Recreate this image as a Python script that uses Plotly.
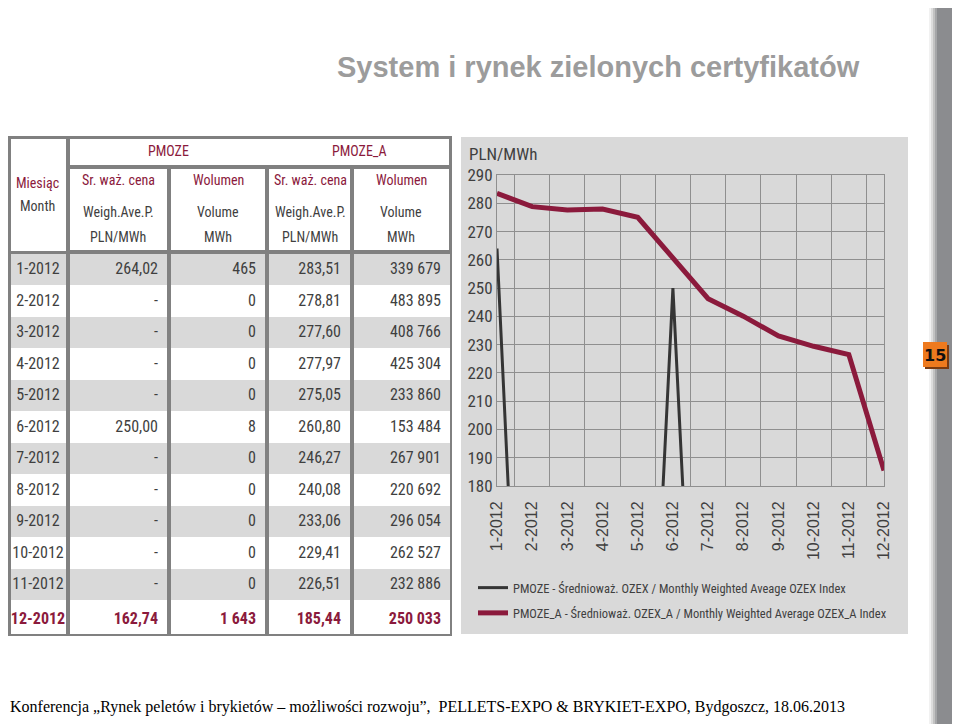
import plotly.graph_objects as go

# the page body adds an 8px margin, so the figure is 952x716 placed at (8, 8)
OFF = 8
W, H = 960 - OFF, 724 - OFF

# ---- data ----
months = ["1-2012", "2-2012", "3-2012", "4-2012", "5-2012", "6-2012",
          "7-2012", "8-2012", "9-2012", "10-2012", "11-2012", "12-2012"]
pmoze_price = [264.02, None, None, None, None, 250.00, None, None, None, None, None, 162.74]
pmoze_volume = [465, 0, 0, 0, 0, 8, 0, 0, 0, 0, 0, 1643]
pmoze_a_price = [283.51, 278.81, 277.60, 277.97, 275.05, 260.80, 246.27, 240.08,
                 233.06, 229.41, 226.51, 185.44]
pmoze_a_volume = [339679, 483895, 408766, 425304, 233860, 153484, 267901, 220692,
                  296054, 262527, 232886, 250033]
y_ticks = [180, 190, 200, 210, 220, 230, 240, 250, 260, 270, 280, 290]

NARROW = "Roboto Condensed, Liberation Sans, sans-serif"
RED = "#8b1a3c"
DARK = "#3f3f3f"
GRID = "#8f8f8f"


def X(px):
    return (px - OFF) / W


def Y(py):
    return 1 - (py - OFF) / H


def fmt_price(v):
    return "-" if v is None else f"{v:.2f}".replace(".", ",")


def fmt_vol(v):
    return f"{v:,}".replace(",", " ")


def bold_last(vals):
    return vals[:-1] + ["<b>" + vals[-1] + "</b>"]


fig = go.Figure()

# ---- table: one go.Table per column so the gray frame shows between them ----
row_fill = ["#d9d9d9" if i % 2 == 0 else "#ffffff" for i in range(len(months))]
row_font = [DARK] * (len(months) - 1) + [RED]
columns = [
    (months, 11, 66, "center"),
    ([fmt_price(v) for v in pmoze_price], 70, 167, "right"),
    ([fmt_vol(v) for v in pmoze_volume], 171, 265, "right"),
    ([fmt_price(v) for v in pmoze_a_price], 269, 350, "right"),
    ([fmt_vol(v) for v in pmoze_a_volume], 354, 449, "right"),
]
for vals, x0, x1, al in columns:
    fig.add_trace(go.Table(
        domain=dict(x=[X(x0), X(x1)], y=[Y(634), Y(253)]),
        header=dict(values=[""], height=1, fill=dict(color="#808080"),
                    line=dict(color="#808080", width=0)),
        cells=dict(
            values=[bold_last(list(vals))],
            fill=dict(color=[row_fill]),
            line=dict(color=[row_fill], width=1),
            font=dict(family=NARROW, size=16, color=[row_font]),
            align=al,
            height=31.5,
        ),
    ))

# ---- line chart ----
fig.add_trace(go.Scatter(
    x=months,
    y=[p if p is not None else 0 for p in pmoze_price],
    mode="lines",
    name="PMOZE - Średnioważ. OZEX / Monthly Weighted Aveage OZEX Index",
    line=dict(color="#353535", width=3),
    legendgroup="a",
))
fig.add_trace(go.Scatter(
    x=months,
    y=pmoze_a_price,
    mode="lines",
    name="PMOZE_A - Średnioważ. OZEX_A / Monthly Weighted Average OZEX_A Index",
    line=dict(color=RED, width=5),
    legendgroup="b",
))


def rect(x0, x1, y0, y1, color):
    return dict(type="rect", xref="paper", yref="paper",
                x0=X(x0), x1=X(x1), y0=Y(y0), y1=Y(y1),
                fillcolor=color, line=dict(width=0), layer="below")


shapes = [
    rect(8, 452, 136, 636, "#808080"),
    rect(11, 66, 139, 251, "white"),
    rect(70, 449, 139, 165, "white"),
]
for x0, x1 in [(70, 167), (171, 265), (269, 350), (354, 449)]:
    shapes.append(rect(x0, x1, 169, 250, "white"))
shapes.append(rect(461, 908, 137, 634, "#d9d9d9"))
for x0, c in [(929, "#f1f1f1"), (931, "#dcdcdc"), (933, "#c2c2c2"), (935, "#a5a6a8")]:
    shapes.append(rect(x0, x0 + 2, OFF, 724, c))
shapes.append(rect(937, 960, OFF, 724, "#8b8c8f"))
shapes.append(rect(925, 949, 345, 369, "#7a3a10"))
shapes.append(rect(923, 947, 342, 367, "#ee7a1e"))


def label(text, x, y, size, color, family=NARROW, xanchor="center"):
    return dict(text=text, x=X(x), y=Y(y), xanchor=xanchor, yanchor="middle",
                xref="paper", yref="paper", showarrow=False,
                font=dict(family=family, size=size, color=color))


annotations = [
    label("<b>System i rynek zielonych certyfikatów</b>", 598, 67, 29, "#9c9c9c",
          family="Liberation Sans, Arial"),
    label("<b>15</b>", 935, 355, 16, "#111111", family="DejaVu Sans"),
    label("Konferencja „Rynek peletów i brykietów – możliwości rozwoju”,  "
          "PELLETS-EXPO & BRYKIET-EXPO, Bydgoszcz, 18.06.2013", 8, 707, 16, "#000000",
          family="Liberation Serif, Times New Roman", xanchor="left"),
    label("PLN/MWh", 467, 154, 17, DARK, xanchor="left"),
    label("Miesiąc", 37, 183, 14, RED),
    label("Month", 37, 206, 14, DARK),
    label("PMOZE", 168, 151, 14, RED),
    label("PMOZE_A", 359, 151, 14, RED),
]
for cx, top, sub1, sub2 in [(118, "Sr. waż. cena", "Weigh.Ave.P.", "PLN/MWh"),
                            (218, "Wolumen", "Volume", "MWh"),
                            (310, "Sr. waż. cena", "Weigh.Ave.P.", "PLN/MWh"),
                            (401, "Wolumen", "Volume", "MWh")]:
    annotations += [
        label(top, cx, 180, 14, RED),
        label(sub1, cx, 212, 14, DARK),
        label(sub2, cx, 237, 14, DARK),
    ]

fig.update_layout(
    width=W, height=H,
    margin=dict(l=0, r=0, t=0, b=0, autoexpand=False),
    paper_bgcolor="white",
    plot_bgcolor="rgba(0,0,0,0)",
    shapes=shapes,
    annotations=annotations,
    xaxis=dict(
        domain=[X(497), X(884)],
        type="category",
        tickson="boundaries",
        tickangle=-90,
        ticks="",
        ticklabelstandoff=8,
        showgrid=True, gridcolor=GRID, gridwidth=1,
        showline=True, linecolor=GRID, mirror=True,
        tickfont=dict(family="Liberation Sans, Arial", size=16, color=DARK),
        fixedrange=True,
    ),
    yaxis=dict(
        domain=[Y(486), Y(175)],
        range=[180, 290],
        tickvals=y_ticks,
        showgrid=True, gridcolor=GRID, gridwidth=1,
        showline=True, linecolor=GRID, mirror=True,
        zeroline=False,
        tickfont=dict(family=NARROW, size=17, color=DARK),
        fixedrange=True,
    ),
    showlegend=True,
    legend=dict(
        x=X(473), y=Y(573), xanchor="left", yanchor="top",
        bgcolor="rgba(0,0,0,0)",
        traceorder="grouped", tracegroupgap=6,
        font=dict(family=NARROW, size=12.5, color=DARK),
    ),
)

fig.write_html("out.html")
